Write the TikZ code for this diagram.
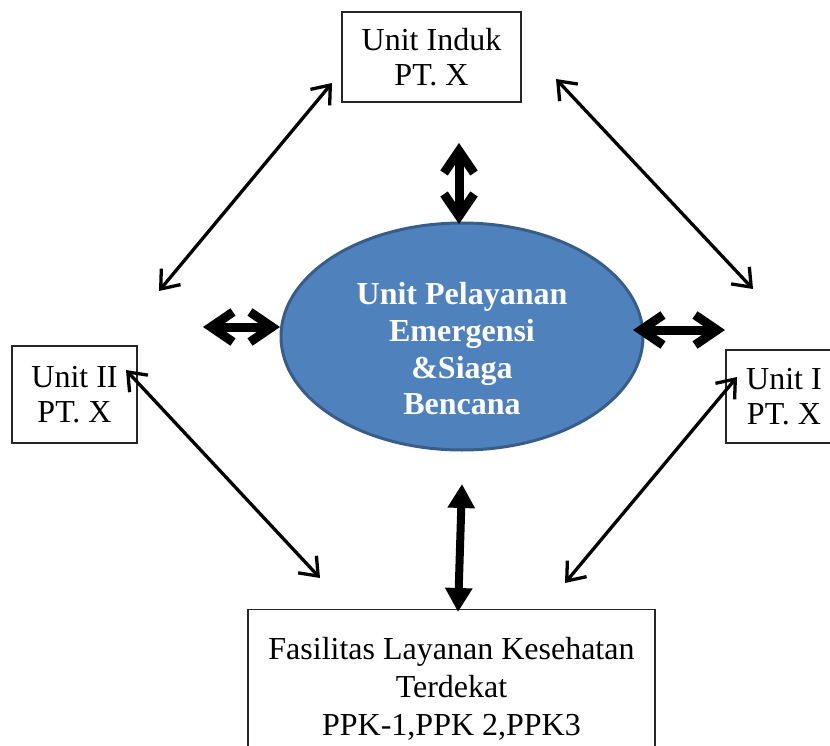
\documentclass[tikz,border=0pt]{standalone}
\usepackage{fontspec}
\setmainfont{Liberation Serif}
\usetikzlibrary{arrows.meta,shapes.geometric}
\definecolor{biru}{HTML}{4F81BD}
\definecolor{birutua}{HTML}{385D8A}
\tikzstyle{kotak}=[draw=black!85,line width=1.3pt,align=center,inner sep=0pt,font=\fontsize{32}{35}\selectfont]
\tikzstyle{oval}=[ellipse,fill=biru,draw=birutua,line width=3pt,minimum width=362pt,minimum height=227pt,inner sep=0pt]
\tikzstyle{teksoval}=[text=white,align=center,inner sep=0pt,font=\fontsize{32}{36.7}\selectfont\bfseries]
\tikzstyle{tipis}=[line width=3.3pt,>={Straight Barb[length=16pt,width=25pt]},<->]
\tikzstyle{tebal}=[line width=9pt,>={Straight Barb[length=22pt,width=30pt]},<->]
\tikzstyle{tebalsegitiga}=[line width=8pt,>={Triangle[length=24pt,width=26pt]},<->]

\begin{document}
\begin{tikzpicture}[x=1pt,y=-1pt]
	\useasboundingbox (0,0) rectangle (830,746);
	\node[kotak,minimum width=179pt,minimum height=90pt] (induk) at (431.5,57) {Unit Induk\\PT. X};
	\node[kotak,minimum width=125pt,minimum height=97pt] (unit2) at (74.5,394.5) {Unit II\\PT. X};
	\node[kotak,minimum width=116pt,minimum height=93pt] (unit1) at (784,396.5) {Unit I\\PT. X};
	\node[kotak,minimum width=407pt,minimum height=159pt,font=\fontsize{32}{38}\selectfont] (faskes) at (451.5,689)
		{Fasilitas Layanan Kesehatan\\Terdekat\\PPK-1,PPK 2,PPK3};
	\node[oval] (pusat) at (462,336.5) {};
	\node[teksoval] (judul) at (462,349) {Unit Pelayanan\\Emergensi\\\&Siaga\\Bencana};

	\coordinate (p1) at (332,83);
	\coordinate (p2) at (159,291);
	\coordinate (p3) at (556,79);
	\coordinate (p4) at (753,289);
	\coordinate (p5) at (126,370);
	\coordinate (p6) at (320,578);
	\coordinate (p7) at (737,377);
	\coordinate (p8) at (565,583);
	\coordinate (q1) at (459,143);
	\coordinate (q2) at (459,224);
	\coordinate (q3) at (203,327);
	\coordinate (q4) at (280,327);
	\coordinate (q5) at (633,330);
	\coordinate (q6) at (725,330);
	\coordinate (q7) at (462,484);
	\coordinate (q8) at (458,612);

	\draw[tipis] (p1) -- (p2);
	\draw[tipis] (p3) -- (p4);
	\draw[tipis] (p5) -- (p6);
	\draw[tipis] (p7) -- (p8);
	\draw[tebal] (q1) -- (q2);
	\draw[tebal] (q3) -- (q4);
	\draw[tebal] (q5) -- (q6);
	\draw[tebalsegitiga] (q7) -- (q8);
\end{tikzpicture}
\end{document}
